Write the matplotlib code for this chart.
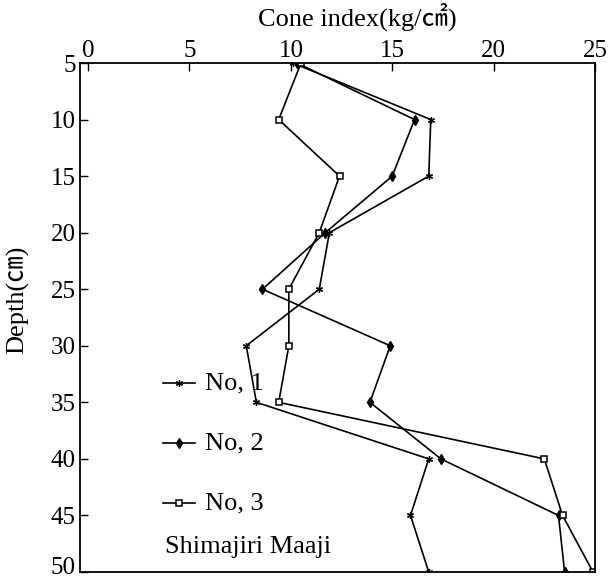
import matplotlib
matplotlib.use('Agg')
import matplotlib.pyplot as plt
import matplotlib.transforms as mtransforms

# depth (cm) and cone index (kg/cm2) for each site
depth = [5, 10, 15, 20, 25, 30, 35, 40, 45, 50]
no1 = [10.1, 16.9, 16.8, 11.9, 11.4, 7.8, 8.3, 16.8, 15.9, 16.8]
no2 = [10.3, 16.1, 15.0, 11.7, 8.6, 14.9, 13.9, 17.4, 23.2, 23.5]
no3 = [10.5, 9.4, 12.4, 11.4, 9.9, 9.9, 9.4, 22.5, 23.4, 24.9]
labels = ['No, 1', 'No, 2', 'No, 3']
site = 'Shimajiri Maaji'

fonts = ['Liberation Serif', 'Noto Sans CJK JP', 'DejaVu Sans']
plt.rcParams['font.family'] = fonts

fig = plt.figure(figsize=(6.16, 5.79), dpi=100)
ax = fig.add_axes([80 / 616, 1 - 572 / 579, 515 / 616, 509 / 579])

ax.plot(no1, depth, color='k', lw=1.2, marker=(6, 2, 0), ms=5, mew=0.9)
ax.plot(no2, depth, color='k', lw=1.2, marker='d', ms=5)
ax.plot(no3, depth, color='k', lw=1.2, marker='s', ms=5, mfc='white', mew=1.1)

ax.set_xlim(-0.4, 25)
ax.set_ylim(50, 5)
ax.set_xticks([0, 5, 10, 15, 20, 25])
ax.set_yticks(depth)
ax.xaxis.tick_top()
ax.tick_params(direction='in', length=6, width=1, labelsize=18)
ax.tick_params(axis='x', pad=1)
ax.tick_params(axis='y', pad=3)
for s in ax.spines.values():
    s.set_linewidth(1.3)

# the bottom label sits at the edge; lift it a little so it stays inside
fig.canvas.draw()
last = ax.get_yticklabels()[-1]
last.set_transform(last.get_transform() +
                   mtransforms.ScaledTranslation(0, 6 / 100, fig.dpi_scale_trans))

fig.text(357 / 616, 1 - 17 / 579, 'Cone index(kg/㎠)', ha='center', va='center', fontsize=19)
fig.text(18 / 616, 1 - 300 / 579, 'Depth(㎝)', ha='center', va='center', fontsize=19, rotation=90)

# hand-drawn legend at the lower left
markers = [dict(marker=(6, 2, 0), ms=5, mew=0.9), dict(marker='d', ms=5),
           dict(marker='s', ms=5, mfc='white', mew=1.1)]
for i, (lab, mk) in enumerate(zip(labels, markers)):
    yy = 1 - (383 + 60 * i) / 579
    fig.add_artist(plt.Line2D([163 / 616, 195 / 616], [yy, yy], color='k', lw=1.2,
                              transform=fig.transFigure))
    fig.add_artist(plt.Line2D([179 / 616], [yy], color='k', ls='none',
                              transform=fig.transFigure, **mk))
    fig.text(205 / 616, yy, lab, ha='left', va='center', fontsize=19)
fig.text(165 / 616, 1 - 547 / 579, site, ha='left', va='center', fontsize=19)

fig.savefig('out.png', dpi=100)
